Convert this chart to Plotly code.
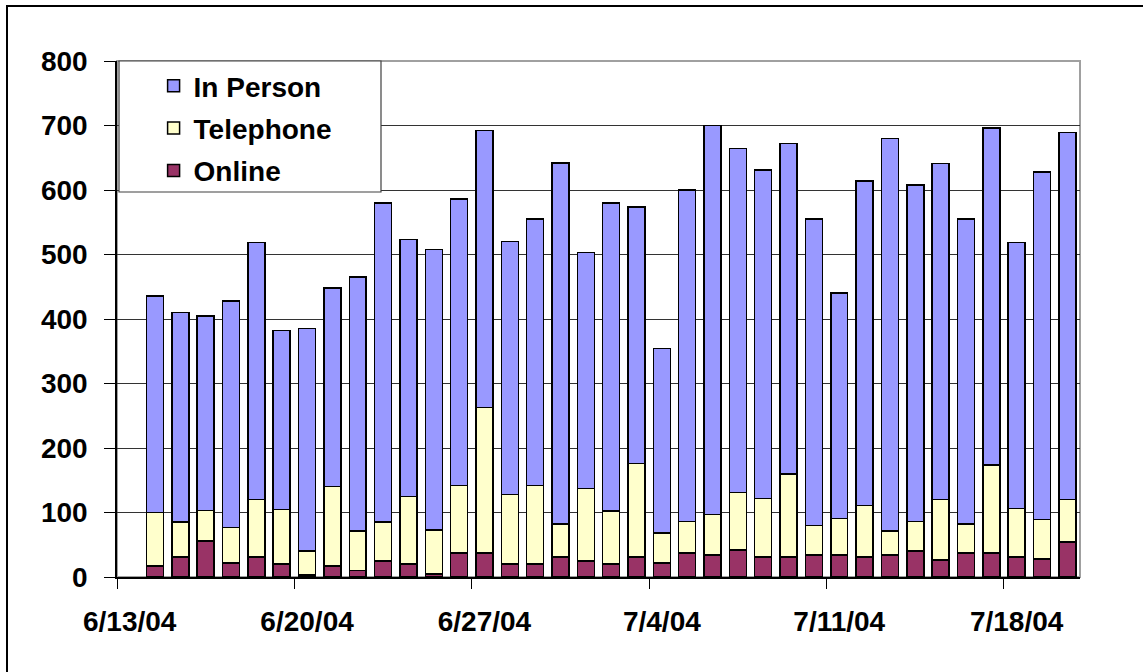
import plotly.graph_objects as go

# Daily contact counts by channel, 6/14/04 - 7/20/04
dates = [
    "2004-06-14", "2004-06-15", "2004-06-16", "2004-06-17", "2004-06-18", "2004-06-19", "2004-06-20",
    "2004-06-21", "2004-06-22", "2004-06-23", "2004-06-24", "2004-06-25", "2004-06-26", "2004-06-27",
    "2004-06-28", "2004-06-29", "2004-06-30", "2004-07-01", "2004-07-02", "2004-07-03", "2004-07-04",
    "2004-07-05", "2004-07-06", "2004-07-07", "2004-07-08", "2004-07-09", "2004-07-10", "2004-07-11",
    "2004-07-12", "2004-07-13", "2004-07-14", "2004-07-15", "2004-07-16", "2004-07-17", "2004-07-18",
    "2004-07-19", "2004-07-20",
]
online = [17, 31, 56, 22, 31, 20, 3, 17, 10, 25, 20, 5, 37, 37, 20, 20, 31, 25, 20, 31, 22,
          37, 34, 42, 31, 31, 34, 34, 31, 34, 40, 26, 37, 37, 31, 28, 54]
telephone = [83, 54, 47, 55, 89, 85, 37, 123, 61, 60, 105, 68, 105, 226, 108, 122, 51, 112, 82, 145, 46,
             49, 63, 89, 91, 129, 46, 57, 80, 37, 46, 94, 45, 137, 75, 61, 66]
in_person = [336, 325, 302, 351, 399, 277, 345, 308, 394, 495, 398, 435, 444, 429, 392, 413, 560, 366, 478, 398, 286,
             514, 603, 533, 509, 512, 475, 349, 503, 609, 522, 521, 473, 522, 413, 539, 569]

tick_dates = ["2004-06-13", "2004-06-20", "2004-06-27", "2004-07-04", "2004-07-11", "2004-07-18"]
tick_labels = ["6/13/04", "6/20/04", "6/27/04", "7/4/04", "7/11/04", "7/18/04"]
boundary_dates = ["2004-06-12 12:00", "2004-06-19 12:00", "2004-06-26 12:00",
                  "2004-07-03 12:00", "2004-07-10 12:00", "2004-07-17 12:00"]

FONT = "Liberation Sans, Arial, sans-serif"
outline = dict(color="black", width=1.5)

fig = go.Figure()
# stacked bottom-to-top; legend lists top segment first
for name, vals, color, rank in [
    ("Online", online, "#993366", 3),
    ("Telephone", telephone, "#FFFFCC", 2),
    ("In Person", in_person, "#9999FF", 1),
]:
    fig.add_trace(go.Bar(
        x=dates, y=vals, name=name, legendgroup=name, legendrank=rank,
        marker=dict(color=color, line=outline),
    ))

fig.update_layout(
    width=1143, height=672,
    barmode="stack", bargap=0.33,
    plot_bgcolor="white", paper_bgcolor="white",
    margin=dict(l=117, r=63, t=61, b=95),
    font=dict(family=FONT, size=28, color="black"),
    showlegend=True,
    legend=dict(
        x=0.038, y=1.0, xanchor="left", yanchor="top",
        traceorder="grouped", tracegroupgap=3,
        bgcolor="rgba(0,0,0,0)", borderwidth=0,
        font=dict(family=FONT, size=28, color="black", weight="bold"),
    ),
    xaxis=dict(
        type="date",
        range=["2004-06-12 12:00", "2004-07-20 12:00"],
        tickvals=tick_dates, ticktext=tick_labels,
        ticks="", showgrid=False,
        tickfont=dict(family=FONT, size=28, color="black", weight="bold"),
        ticklabelstandoff=19,
        showline=True, linecolor="black", linewidth=1.5,
        minor=dict(tickvals=boundary_dates, ticks="outside", ticklen=10,
                   tickcolor="black", tickwidth=1, showgrid=False),
    ),
    yaxis=dict(
        range=[0, 800], dtick=100,
        ticks="outside", ticklen=11, tickcolor="black", tickwidth=1,
        tickfont=dict(family=FONT, size=28, color="black", weight="bold"),
        ticklabelstandoff=11,
        showgrid=True, gridcolor="#333333", gridwidth=1,
        showline=True, linecolor="black", linewidth=1.5,
        zeroline=False,
    ),
    shapes=[
        # plot-area frame
        dict(type="rect", xref="paper", yref="paper", x0=0, x1=1, y0=0, y1=1,
             line=dict(color="#A0A0A0", width=2), layer="below"),
        # legend box
        dict(type="rect", xref="paper", yref="paper",
             x0=(119 - 117) / 963, x1=(381 - 117) / 963,
             y0=(577 - 192) / 516, y1=1.0,
             line=dict(color="#404040", width=1.2), fillcolor="white", layer="above"),
        # outer chart frame
        dict(type="rect", xref="paper", yref="paper",
             x0=(7 - 117) / 963, x1=1.2, y0=-0.3, y1=(577 - 6) / 516,
             line=dict(color="black", width=2)),
    ],
)

fig.write_html("out.html")
